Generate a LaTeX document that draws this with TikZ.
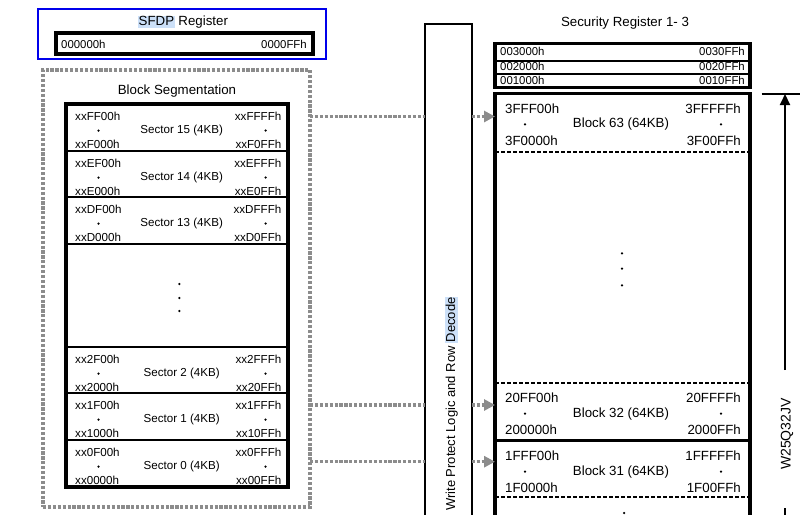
\documentclass[tikz,border=0pt]{standalone}
\usepackage{fontspec}
\setmainfont{Liberation Sans}
\usetikzlibrary{arrows.meta}
\definecolor{hl}{RGB}{204,224,248}
\definecolor{dotgray}{RGB}{140,140,140}
\definecolor{blueframe}{RGB}{0,0,235}
\setlength{\fboxsep}{0.6pt}
\newcommand{\hlbox}[1]{\colorbox{hl}{\rule[-2pt]{0pt}{11pt}#1}}
\begin{document}
\begin{tikzpicture}[x=1pt,y=-1pt,
  box/.style={draw, inner sep=0pt, outer sep=0pt, anchor=north west},
  ttl/.style={font=\fontsize{13.3}{15}\selectfont, inner sep=0pt},
  sec/.style={font=\fontsize{11.6}{13}\selectfont, inner sep=0pt},
  blk/.style={font=\fontsize{13.3}{15}\selectfont, inner sep=0pt},
  reg/.style={font=\fontsize{11.4}{12}\selectfont, inner sep=0pt},
  dotmark/.style={circle, fill, inner sep=0pt, minimum size=2.5pt},
  gdots/.style={draw=dotgray, line width=3.4pt, dash pattern=on 3.2pt off 1.7pt},
  gconn/.style={draw=dotgray, line width=3.4pt, dash pattern=on 3.2pt off 1.7pt},
  gtip/.style={-{Triangle[length=11pt,width=11pt,fill=dotgray,color=dotgray]}},
  blkdash/.style={line width=2pt, dash pattern=on 4pt off 2pt},
]
\useasboundingbox (0,0) rectangle (800,514);
\fill[white] (0,0) rectangle (800,514);
\clip (0,0) rectangle (800,514);

% ---------- SFDP register ----------
\node[box, draw=blueframe, line width=2pt, minimum width=288pt, minimum height=50pt] (sfdp) at (38,9) {};
\node[ttl, anchor=base] (sfdpt) at (183,25.7) {\hlbox{SFDP} Register};
\node[box, line width=3.5pt, minimum width=257pt, minimum height=21pt] (sfdpreg) at (56,33) {};
\node[reg, anchor=west] (sfdplo) at (61,44) {000000h};
\node[reg, anchor=east] (sfdphi) at (307,44) {0000FFh};

% ---------- Block segmentation ----------
\node[box, gdots, minimum width=267pt, minimum height=437pt] (seg) at (43,70) {};
\node[ttl, anchor=base] (segt) at (177,94.3) {Block Segmentation};

\foreach \t/\h/\dg/\n in {104/47/F/15, 151/46/E/14, 197/47/D/13, 347/46/2/2, 393/47/1/1, 440/47/0/0}{
  \node[box, line width=2.7pt, minimum width=222pt, minimum height=\h*1pt] (sec\n) at (66,\t) {};
  \node[sec, anchor=west] (sec\n-lt) at (75,\t+12.5) {xx\dg F00h};
  \node[sec, anchor=west] (sec\n-lb) at (75,\t+40) {xx\dg 000h};
  \node[sec, anchor=east] (sec\n-rt) at (281.5,\t+12.5) {xx\dg FFFh};
  \node[sec, anchor=east] (sec\n-rb) at (281.5,\t+40) {xx\dg 0FFh};
  \node[dotmark] (sec\n-ld) at (98.5,\t+26.5) {};
  \node[dotmark] (sec\n-rd) at (265.5,\t+26.5) {};
  \node[sec] (sec\n-c) at (181.7,\t+26.5) {Sector \n\ (4KB)};
}
\node[box, line width=3.2pt, minimum width=222pt, minimum height=383pt] (stack) at (66,104) {};
\node[dotmark] (sg1) at (179.3,284) {};
\node[dotmark] (sg2) at (179.3,298) {};
\node[dotmark] (sg3) at (179.3,311) {};

% ---------- Write protect logic ----------
\node[box, line width=2pt, minimum width=46.7pt, minimum height=520pt] (wp) at (425,24) {};
\node[font=\fontsize{13}{15}\selectfont, rotate=90, anchor=base east, inner sep=0pt] (wpt) at (455,296.5) {Write Protect Logic and Row \hlbox{Decode}};

% ---------- Security registers ----------
\node[ttl, anchor=base] (srt) at (625,26) {Security Register 1- 3};
\node[box, line width=3.2pt, minimum width=255pt, minimum height=44pt] (secreg) at (495,43.3) {};
\draw[line width=2.2pt] (495,60.7) -- (750,60.7);
\draw[line width=2.2pt] (495,74) -- (750,74);
\foreach \y/\a in {51.7/3, 66.7/2, 80.7/1}{
  \node[reg, anchor=west] (sr\a-l) at (500,\y) {00\a 000h};
  \node[reg, anchor=east] (sr\a-r) at (745,\y) {00\a 0FFh};
}

% ---------- Memory array ----------
\node[box, line width=3.2pt, minimum width=255pt, minimum height=440pt] (array) at (495,93.3) {};
\draw[blkdash] (495,151.7) -- (750,151.7);
\draw[blkdash] (495,382.7) -- (750,382.7);
\draw[line width=2.5pt] (495,440.7) -- (750,440.7);
\draw[blkdash] (495,497.3) -- (750,497.3);
\foreach \t/\n/\a in {93.3/63/3F, 382.7/32/20, 440.7/31/1F}{
  \node[blk, anchor=west] (b\n-lt) at (505,\t+15.3) {\a FF00h};
  \node[blk, anchor=west] (b\n-lb) at (505,\t+47) {\a 0000h};
  \node[blk, anchor=east] (b\n-rt) at (741,\t+15.3) {\a FFFFh};
  \node[blk, anchor=east] (b\n-rb) at (741,\t+47) {\a 00FFh};
  \node[dotmark] (b\n-ld) at (525,\t+31) {};
  \node[dotmark] (b\n-rd) at (721,\t+31) {};
  \node[blk] (b\n-c) at (621,\t+31) {Block \n\ (64KB)};
}
\node[dotmark] (bg1) at (622,253.3) {};
\node[dotmark] (bg2) at (622,268.7) {};
\node[dotmark] (bg3) at (622,285.3) {};
\node[dotmark] (bg4) at (624,513) {};

% ---------- Connectors ----------
\foreach \y/\k in {116.5/a, 405/b, 461.7/c}{
  \coordinate (l\k) at (310,\y);
  \draw[gconn] (seg.east |- l\k) -- (wp.west |- l\k);
  \draw[gconn, gtip] (wp.east |- l\k) -- (array.west |- l\k);
}

% ---------- Size marker ----------
\coordinate (capL) at (761.5,94);
\coordinate (capR) at (805,94);
\draw[line width=2.5pt] (capL) -- (capR);
\coordinate (vtop) at (785,94);
\coordinate (vbot) at (785,370);
\draw[line width=2pt, -{Triangle[length=11pt,width=10pt]}] (vbot) -- (vtop);
\node[font=\fontsize{14}{16}\selectfont, rotate=90, anchor=base east, inner sep=0pt] (chip) at (790.5,398) {W25Q32JV};
\coordinate (vb1) at (785,508);
\coordinate (vb2) at (785,520);
\draw[line width=2pt] (vb1) -- (vb2);
\end{tikzpicture}
\end{document}
